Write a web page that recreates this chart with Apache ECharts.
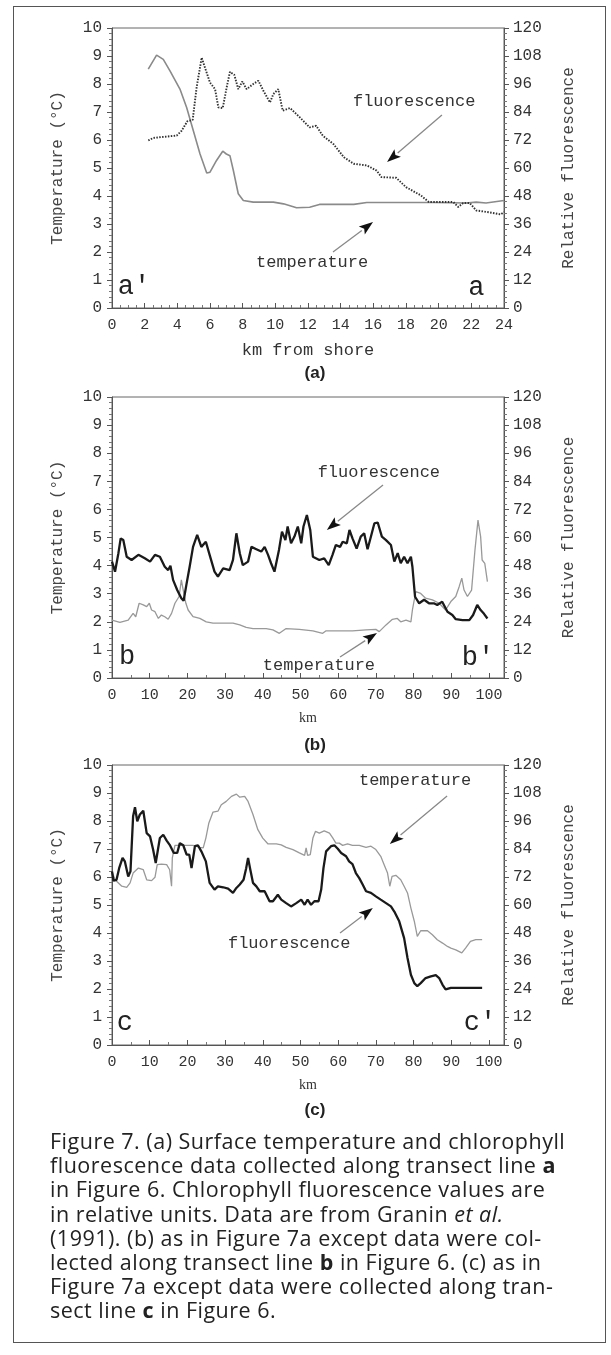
<!DOCTYPE html>
<html>
<head>
<meta charset="utf-8">
<script src="https://cdn.jsdelivr.net/npm/echarts@6/dist/echarts.min.js"></script>
<style>
html,body{margin:0;padding:0;background:#fff;}
#wrap{position:relative;width:611px;height:1355px;overflow:hidden;}
#chart{position:absolute;left:0;top:0;width:611px;height:1130px;}
#frame{position:absolute;left:13px;top:6px;width:593px;height:1337px;border:1.5px solid #555;box-sizing:border-box;}
#caption{position:absolute;left:50px;top:1129px;font-family:"Open Sans","Liberation Sans",sans-serif;font-size:21.5px;line-height:24.2px;letter-spacing:0.5px;color:#222;white-space:nowrap;}
</style>
</head>
<body>
<div id="wrap">
<div id="frame"></div>
<div id="chart"></div>
<div id="caption">Figure 7. (a) Surface temperature and chlorophyll<br>fluorescence data collected along transect line <b>a</b><br>in Figure 6. Chlorophyll fluorescence values are<br>in relative units. Data are from Granin <i>et al.</i><br>(1991). (b) as in Figure 7a except data were col-<br>lected along transect line <b>b</b> in Figure 6. (c) as in<br>Figure 7a except data were collected along tran-<br>sect line <b>c</b> in Figure 6.</div>
</div>
<script>
// ---------- DATA ----------
// Panel (a): km from shore, temperature (°C)
const tempA = [[2.22,8.53],[2.73,9.03],[3.14,8.88],[3.55,8.47],[4.16,7.82],[4.57,7.16],[4.98,6.33],[5.39,5.5],[5.8,4.82],[6.0,4.85],[6.4,5.27],[6.78,5.6],[7.0,5.5],[7.22,5.44],[7.43,4.91],[7.73,4.08],[8.04,3.84],[8.65,3.78],[9.88,3.78],[10.5,3.72],[11.3,3.58],[12.1,3.6],[12.7,3.7],[14.8,3.7],[15.6,3.77],[19.7,3.77],[21.7,3.75],[22.3,3.78],[22.9,3.75],[24.0,3.84]];
// Panel (a): km from shore, relative fluorescence
const fluorA = [[2.22,71.8],[2.53,72.9],[3.96,73.9],[4.27,76.0],[4.61,80.0],[4.94,80.6],[5.18,94.5],[5.49,107.3],[5.76,101.6],[6.0,96.6],[6.31,93.8],[6.51,86.0],[6.78,85.7],[7.02,94.5],[7.22,101.2],[7.49,99.9],[7.73,93.8],[7.98,97.1],[8.24,93.8],[8.65,96.0],[8.96,97.4],[9.27,93.1],[9.67,88.1],[9.88,91.7],[10.18,93.8],[10.45,84.6],[10.9,85.7],[11.5,81.7],[12.1,77.4],[12.5,78.1],[12.9,73.9],[13.55,70.3],[14.2,64.6],[14.8,61.8],[15.6,61.1],[16.2,58.9],[16.5,56.1],[17.4,55.8],[18.0,51.8],[18.9,48.3],[19.4,45.4],[20.5,45.4],[20.9,45.4],[21.2,43.3],[21.5,45.0],[21.9,45.0],[22.3,41.8],[23.1,41.0],[23.8,40.1],[24.0,41.1]];

// Panel (b): km, temperature (°C)
const tempB = [[0,2.06],[2.1,1.98],[4.3,2.06],[5.6,2.3],[6.3,2.18],[7.2,2.66],[8.3,2.6],[9.2,2.54],[9.9,2.66],[10.5,2.42],[11.4,2.36],[12.3,2.12],[13.1,2.24],[14.0,2.18],[14.9,2.09],[15.8,2.3],[16.7,2.66],[17.8,2.9],[18.4,3.49],[18.9,3.13],[19.6,2.66],[20.2,2.42],[21.5,2.18],[23.3,2.12],[25.0,2.0],[26.8,1.95],[28.6,1.95],[32.1,1.95],[33.9,1.89],[35.6,1.8],[37.4,1.76],[40.9,1.76],[42.7,1.71],[44.4,1.59],[46.2,1.76],[49.7,1.73],[53.3,1.68],[55.9,1.59],[56.8,1.68],[60.3,1.68],[63.8,1.68],[67.4,1.71],[70.0,1.73],[70.9,1.65],[72.7,1.89],[74.4,2.09],[75.7,2.12],[76.6,2.0],[78.0,2.06],[79.3,2.0],[79.7,2.42],[80.6,3.07],[81.9,3.01],[83.2,2.84],[85.0,2.78],[86.8,2.66],[88.5,2.42],[89.9,2.72],[91.2,2.9],[92.1,3.25],[92.8,3.55],[93.4,3.13],[94.3,2.9],[95.4,3.13],[96.3,4.56],[97.1,5.62],[97.8,5.03],[98.2,4.2],[98.9,4.08],[99.6,3.43]];
// Panel (b): km, relative fluorescence
const fluorB = [[0,49.7],[0.8,45.4],[1.7,53.3],[2.3,59.6],[3.0,58.9],[3.9,51.8],[5.2,50.4],[7.0,52.6],[8.7,51.1],[10.1,49.7],[11.4,52.6],[12.7,51.8],[14.0,47.5],[14.9,46.1],[15.5,47.9],[16.2,41.9],[17.3,37.6],[18.4,34.1],[19.0,33.0],[19.8,40.4],[20.6,47.5],[21.5,56.0],[22.6,61.1],[23.7,56.0],[24.9,58.2],[25.9,52.6],[27.2,45.4],[28.1,43.3],[29.5,46.8],[31.2,46.1],[32.1,50.4],[33.0,61.8],[33.9,53.3],[34.7,48.2],[36.1,49.7],[37.0,56.0],[38.3,55.0],[39.6,54.0],[40.5,56.0],[41.4,52.6],[42.2,49.0],[43.1,45.4],[44.3,54.7],[45.1,62.5],[46.0,58.9],[46.6,64.7],[47.5,57.5],[48.4,60.4],[49.3,64.7],[50.2,57.5],[50.8,64.7],[51.7,69.6],[52.6,63.2],[53.3,51.8],[55.0,50.4],[56.3,51.1],[57.5,48.2],[58.5,52.6],[59.4,56.8],[60.5,56.0],[61.2,58.2],[62.3,57.5],[63.0,63.2],[63.8,59.6],[64.9,55.3],[66.0,60.4],[66.9,61.8],[67.8,55.0],[68.7,60.4],[69.6,66.0],[70.5,66.4],[71.6,60.4],[72.7,58.9],[74.0,56.8],[74.9,49.7],[75.8,53.3],[76.6,49.0],[77.5,51.8],[78.4,49.0],[79.3,51.8],[79.7,47.5],[80.4,34.7],[81.5,31.9],[82.8,33.4],[84.1,31.9],[85.4,31.9],[86.3,31.2],[87.6,32.6],[89.0,28.3],[90.3,26.9],[91.2,25.1],[93.0,24.7],[94.8,24.7],[95.8,26.9],[96.9,31.2],[97.8,29.0],[98.7,27.4],[99.6,25.4]];

// Panel (c): km, temperature (°C)
const tempC = [[0,6.2],[0.8,5.9],[2.6,5.67],[3.9,5.63],[4.8,5.79],[5.6,6.14],[7.0,6.32],[8.3,6.26],[9.2,5.9],[10.5,5.87],[11.4,5.99],[12.0,6.44],[13.1,6.46],[14.5,6.44],[15.3,6.26],[15.8,5.67],[16.0,6.68],[16.7,7.13],[18.0,7.13],[19.8,7.13],[21.5,7.13],[23.3,7.06],[24.2,7.04],[24.9,7.39],[25.7,7.93],[26.8,8.32],[28.1,8.35],[29.0,8.58],[30.3,8.7],[31.7,8.88],[33.0,8.96],[33.9,8.85],[35.2,8.88],[36.1,8.7],[37.4,8.23],[38.7,7.69],[40.0,7.39],[41.4,7.18],[43.6,7.18],[44.9,7.15],[46.2,7.06],[48.0,6.98],[49.7,6.86],[51.1,6.77],[51.5,7.04],[51.9,6.77],[52.6,6.8],[53.3,7.39],[54.0,7.63],[55.0,7.57],[56.3,7.65],[57.7,7.57],[58.6,7.39],[59.4,7.21],[60.3,7.21],[61.2,7.13],[62.5,7.18],[63.8,7.13],[65.6,7.13],[67.4,7.06],[68.7,7.1],[70.0,6.98],[71.3,6.74],[72.2,6.44],[73.1,6.14],[73.7,5.67],[74.3,6.02],[75.3,6.06],[76.6,5.9],[77.5,5.67],[78.4,5.43],[79.3,4.89],[80.2,4.42],[81.0,3.88],[81.9,4.08],[83.7,4.08],[85.0,3.94],[86.3,3.76],[87.7,3.64],[89.0,3.52],[89.9,3.46],[91.2,3.4],[92.8,3.29],[93.8,3.46],[95.1,3.7],[96.5,3.76],[98.2,3.76]];
// Panel (c): km, relative fluorescence
const fluorC = [[0,74.4],[0.4,70.4],[1.2,70.8],[1.9,75.8],[2.8,80.2],[3.4,78.7],[4.3,72.2],[4.9,74.4],[5.6,98.0],[6.1,101.9],[6.7,95.9],[7.4,98.8],[8.3,100.4],[9.2,90.8],[10.1,89.4],[10.9,83.8],[11.6,78.0],[12.7,88.7],[13.6,90.1],[14.5,87.6],[15.3,85.8],[16.4,82.3],[17.3,82.3],[18.0,86.5],[18.9,85.6],[19.8,81.6],[20.5,81.6],[21.1,75.8],[22.0,85.2],[22.8,85.6],[23.7,83.0],[24.9,78.7],[25.9,69.5],[27.2,66.6],[28.1,68.0],[29.5,67.6],[30.8,67.0],[32.1,65.2],[33.0,67.3],[33.9,68.8],[34.9,70.8],[35.6,75.8],[36.1,80.2],[36.7,75.1],[37.4,69.5],[38.3,68.0],[39.2,65.9],[40.5,65.9],[41.8,61.6],[42.7,61.6],[44.0,64.4],[44.9,62.3],[46.2,60.8],[47.5,59.4],[48.9,60.8],[50.2,62.3],[51.1,60.1],[51.9,62.3],[52.8,60.1],[53.7,61.6],[54.8,61.6],[55.5,66.6],[56.1,75.8],[56.8,83.0],[58.1,85.2],[59.0,85.6],[59.9,84.1],[60.8,82.3],[62.1,80.9],[62.9,78.7],[63.8,77.5],[64.7,73.7],[65.6,71.5],[66.5,68.8],[67.4,65.9],[68.7,65.2],[70.0,63.7],[71.3,62.3],[72.7,60.8],[74.0,59.4],[74.9,57.2],[76.2,53.0],[77.5,45.8],[78.4,37.3],[79.3,30.1],[80.2,26.5],[81.0,25.2],[81.9,26.5],[83.2,28.7],[84.6,29.4],[85.9,29.9],[86.8,28.7],[87.7,25.8],[88.5,23.8],[89.9,24.5],[92.1,24.5],[93.8,24.5],[96.0,24.5],[98.2,24.5]];

// Axis ranges / tick labels
const tempTicks = [0,1,2,3,4,5,6,7,8,9,10];
const fluorTicks = [0,12,24,36,48,60,72,84,96,108,120];
const kmTicksA = [0,2,4,6,8,10,12,14,16,18,20,22,24];
const kmTicksBC = [0,10,20,30,40,50,60,70,80,90,100];

// Axis titles and annotation texts
const yTitleLeft = 'Temperature (°C)';
const yTitleRight = 'Relative fluorescence';
const xTitles = ['km from shore', 'km', 'km'];
const panelLabels = ['(a)', '(b)', '(c)'];

// Annotations in data coordinates (km, °C)
const annotations = [
  {panel:0, text:'fluorescence', at:[18.5,7.36], arrow:[[20.2,6.89],[16.84,5.21]]},
  {panel:0, text:'temperature', at:[12.25,1.61], arrow:[[13.53,2.0],[15.98,3.07]]},
  {panel:1, text:'fluorescence', at:[70.8,7.3], arrow:[[71.9,6.87],[57.0,5.27]]},
  {panel:1, text:'temperature', at:[54.9,0.46], arrow:[[60.5,0.75],[70.3,1.6]]},
  {panel:2, text:'temperature', at:[80.4,9.46], arrow:[[88.9,8.89],[73.7,7.18]]},
  {panel:2, text:'fluorescence', at:[47.0,3.64], arrow:[[60.5,4.0],[69.2,4.89]]}
];
const endLabels = [
  {panel:0, text:'a′', at:[1.35,0.75]}, {panel:0, text:'a', at:[22.3,0.72]},
  {panel:1, text:'b', at:[4.0,0.75]}, {panel:1, text:'b′', at:[97.1,0.72]},
  {panel:2, text:'c', at:[3.4,0.79]}, {panel:2, text:'c′', at:[97.6,0.79]}
];

// ---------- CHART ----------
const MONO = '"Liberation Mono","DejaVu Sans Mono",monospace';
const SANS = '"Liberation Sans","DejaVu Sans",sans-serif';
const AX = '#555';

const grids = [
  {left:112, top:28, width:392, height:280},
  {left:112, top:397, width:392, height:281},
  {left:112, top:765, width:392, height:280}
].map(g => Object.assign(g, {show:true, borderColor:'#666', borderWidth:1, backgroundColor:'transparent'}));

function xAxisDef(i) {
  const isA = i === 0;
  const ticks = isA ? kmTicksA : kmTicksBC;
  return {
    type:'value', gridIndex:i, min:0, max: isA ? 24 : 104, interval: isA ? 2 : 10,
    axisLine:{show:true, lineStyle:{color:AX, width:1}},
    axisTick:{show:true, inside:true, length:5, lineStyle:{color:AX}},
    minorTick:{show:true, splitNumber: isA ? 4 : 2, length:3, lineStyle:{color:'#777'}},
    splitLine:{show:false},
    axisLabel:{fontFamily:MONO, fontSize:15, color:'#333', margin:10,
      showMaxLabel: isA,
      formatter: v => ticks.indexOf(v) >= 0 ? String(v) : ''},
    name: xTitles[i], nameLocation:'middle', nameGap: isA ? 34 : 33,
    nameTextStyle:{fontFamily: isA ? MONO : '"Liberation Serif","DejaVu Serif",serif', fontSize: isA ? 17 : 14, color:'#333'}
  };
}
function yLeftDef(i) {
  return {
    type:'value', gridIndex:i, position:'left', min:0, max:10, interval:1,
    axisLine:{show:true, lineStyle:{color:AX}},
    axisTick:{show:true, length:5, lineStyle:{color:AX}},
    minorTick:{show:true, splitNumber:5, length:3, lineStyle:{color:'#777'}},
    splitLine:{show:false},
    axisLabel:{fontFamily:MONO, fontSize:16, color:'#333', margin:10,
      formatter: v => tempTicks.indexOf(v) >= 0 ? String(v) : ''},
    name: yTitleLeft, nameLocation:'middle', nameGap:46, nameRotate:90,
    nameTextStyle:{fontFamily:MONO, fontSize:16, color:'#444'}
  };
}
function yRightDef(i) {
  return {
    type:'value', gridIndex:i, position:'right', min:0, max:120, interval:12,
    axisLine:{show:true, lineStyle:{color:AX}},
    axisTick:{show:true, length:5, lineStyle:{color:AX}},
    minorTick:{show:true, splitNumber:5, length:3, lineStyle:{color:'#777'}},
    splitLine:{show:false},
    axisLabel:{fontFamily:MONO, fontSize:16, color:'#333', margin:9,
      formatter: v => fluorTicks.indexOf(v) >= 0 ? String(v) : ''},
    name: yTitleRight, nameLocation:'middle', nameGap:57, nameRotate:90,
    nameTextStyle:{fontFamily:MONO, fontSize:16, color:'#444'}
  };
}

const xAxes = [0,1,2].map(xAxisDef);
const yAxes = [];
[0,1,2].forEach(i => { yAxes.push(yLeftDef(i)); yAxes.push(yRightDef(i)); });

function lineSeries(name, data, xi, yi, style) {
  return {type:'line', name, data, xAxisIndex:xi, yAxisIndex:yi, showSymbol:false, symbol:'none',
    smooth:false, lineStyle:style, z:3, silent:true};
}

const series = [
  lineSeries('temperature a', tempA, 0, 0, {color:'#8a8a8a', width:1.6}),
  lineSeries('fluorescence a', fluorA, 0, 1, {color:'#333', width:1.9, type:[1.5,1.4]}),
  lineSeries('temperature b', tempB, 1, 2, {color:'#999', width:1.3}),
  lineSeries('fluorescence b', fluorB, 1, 3, {color:'#1a1a1a', width:2.3}),
  lineSeries('temperature c', tempC, 2, 4, {color:'#999', width:1.3}),
  lineSeries('fluorescence c', fluorC, 2, 5, {color:'#1a1a1a', width:2.3})
];

const chart = echarts.init(document.getElementById('chart'), null, {renderer:'canvas'});
chart.setOption({
  animation:false,
  backgroundColor:'transparent',
  grid: grids,
  xAxis: xAxes,
  yAxis: yAxes,
  series: series
});

// ---------- ANNOTATIONS (positioned through axis conversion) ----------
function px(panel, pt) {
  return chart.convertToPixel({xAxisIndex:panel, yAxisIndex:panel*2}, pt);
}
const graphics = [];
annotations.forEach(a => {
  const c = px(a.panel, a.at);
  graphics.push({type:'text', x:c[0], y:c[1], z:10,
    style:{text:a.text, fontFamily:MONO, fontSize:17, fill:'#333', align:'center', verticalAlign:'middle'}});
  const p0 = px(a.panel, a.arrow[0]);
  const p1 = px(a.panel, a.arrow[1]);
  const dx = p1[0]-p0[0], dy = p1[1]-p0[1];
  const L = Math.sqrt(dx*dx+dy*dy), ux = dx/L, uy = dy/L;
  const hl = 14, hw = 5;
  const bx = p1[0]-ux*hl, by = p1[1]-uy*hl;
  graphics.push({type:'line', z:10, shape:{x1:p0[0], y1:p0[1], x2:bx, y2:by},
    style:{stroke:'#888', lineWidth:1.3}});
  graphics.push({type:'polygon', z:10, shape:{points:[[p1[0],p1[1]],[bx-uy*hw, by+ux*hw],[bx+ux*3, by+uy*3],[bx+uy*hw, by-ux*hw]]},
    style:{fill:'#111'}});
});
endLabels.forEach(l => {
  const c = px(l.panel, l.at);
  graphics.push({type:'text', x:c[0], y:c[1], z:10,
    style:{text:l.text, fontFamily:MONO, fontSize:27, fill:'#222', align:'center', verticalAlign:'middle'}});
});
const panelLabelY = [373, 745, 1110];
panelLabels.forEach((t, i) => {
  graphics.push({type:'text', x:315, y:panelLabelY[i], z:10,
    style:{text:t, fontFamily:SANS, fontSize:17, fontWeight:'bold', fill:'#222', align:'center', verticalAlign:'middle'}});
});
chart.setOption({graphic: graphics});
</script>
</body>
</html>
